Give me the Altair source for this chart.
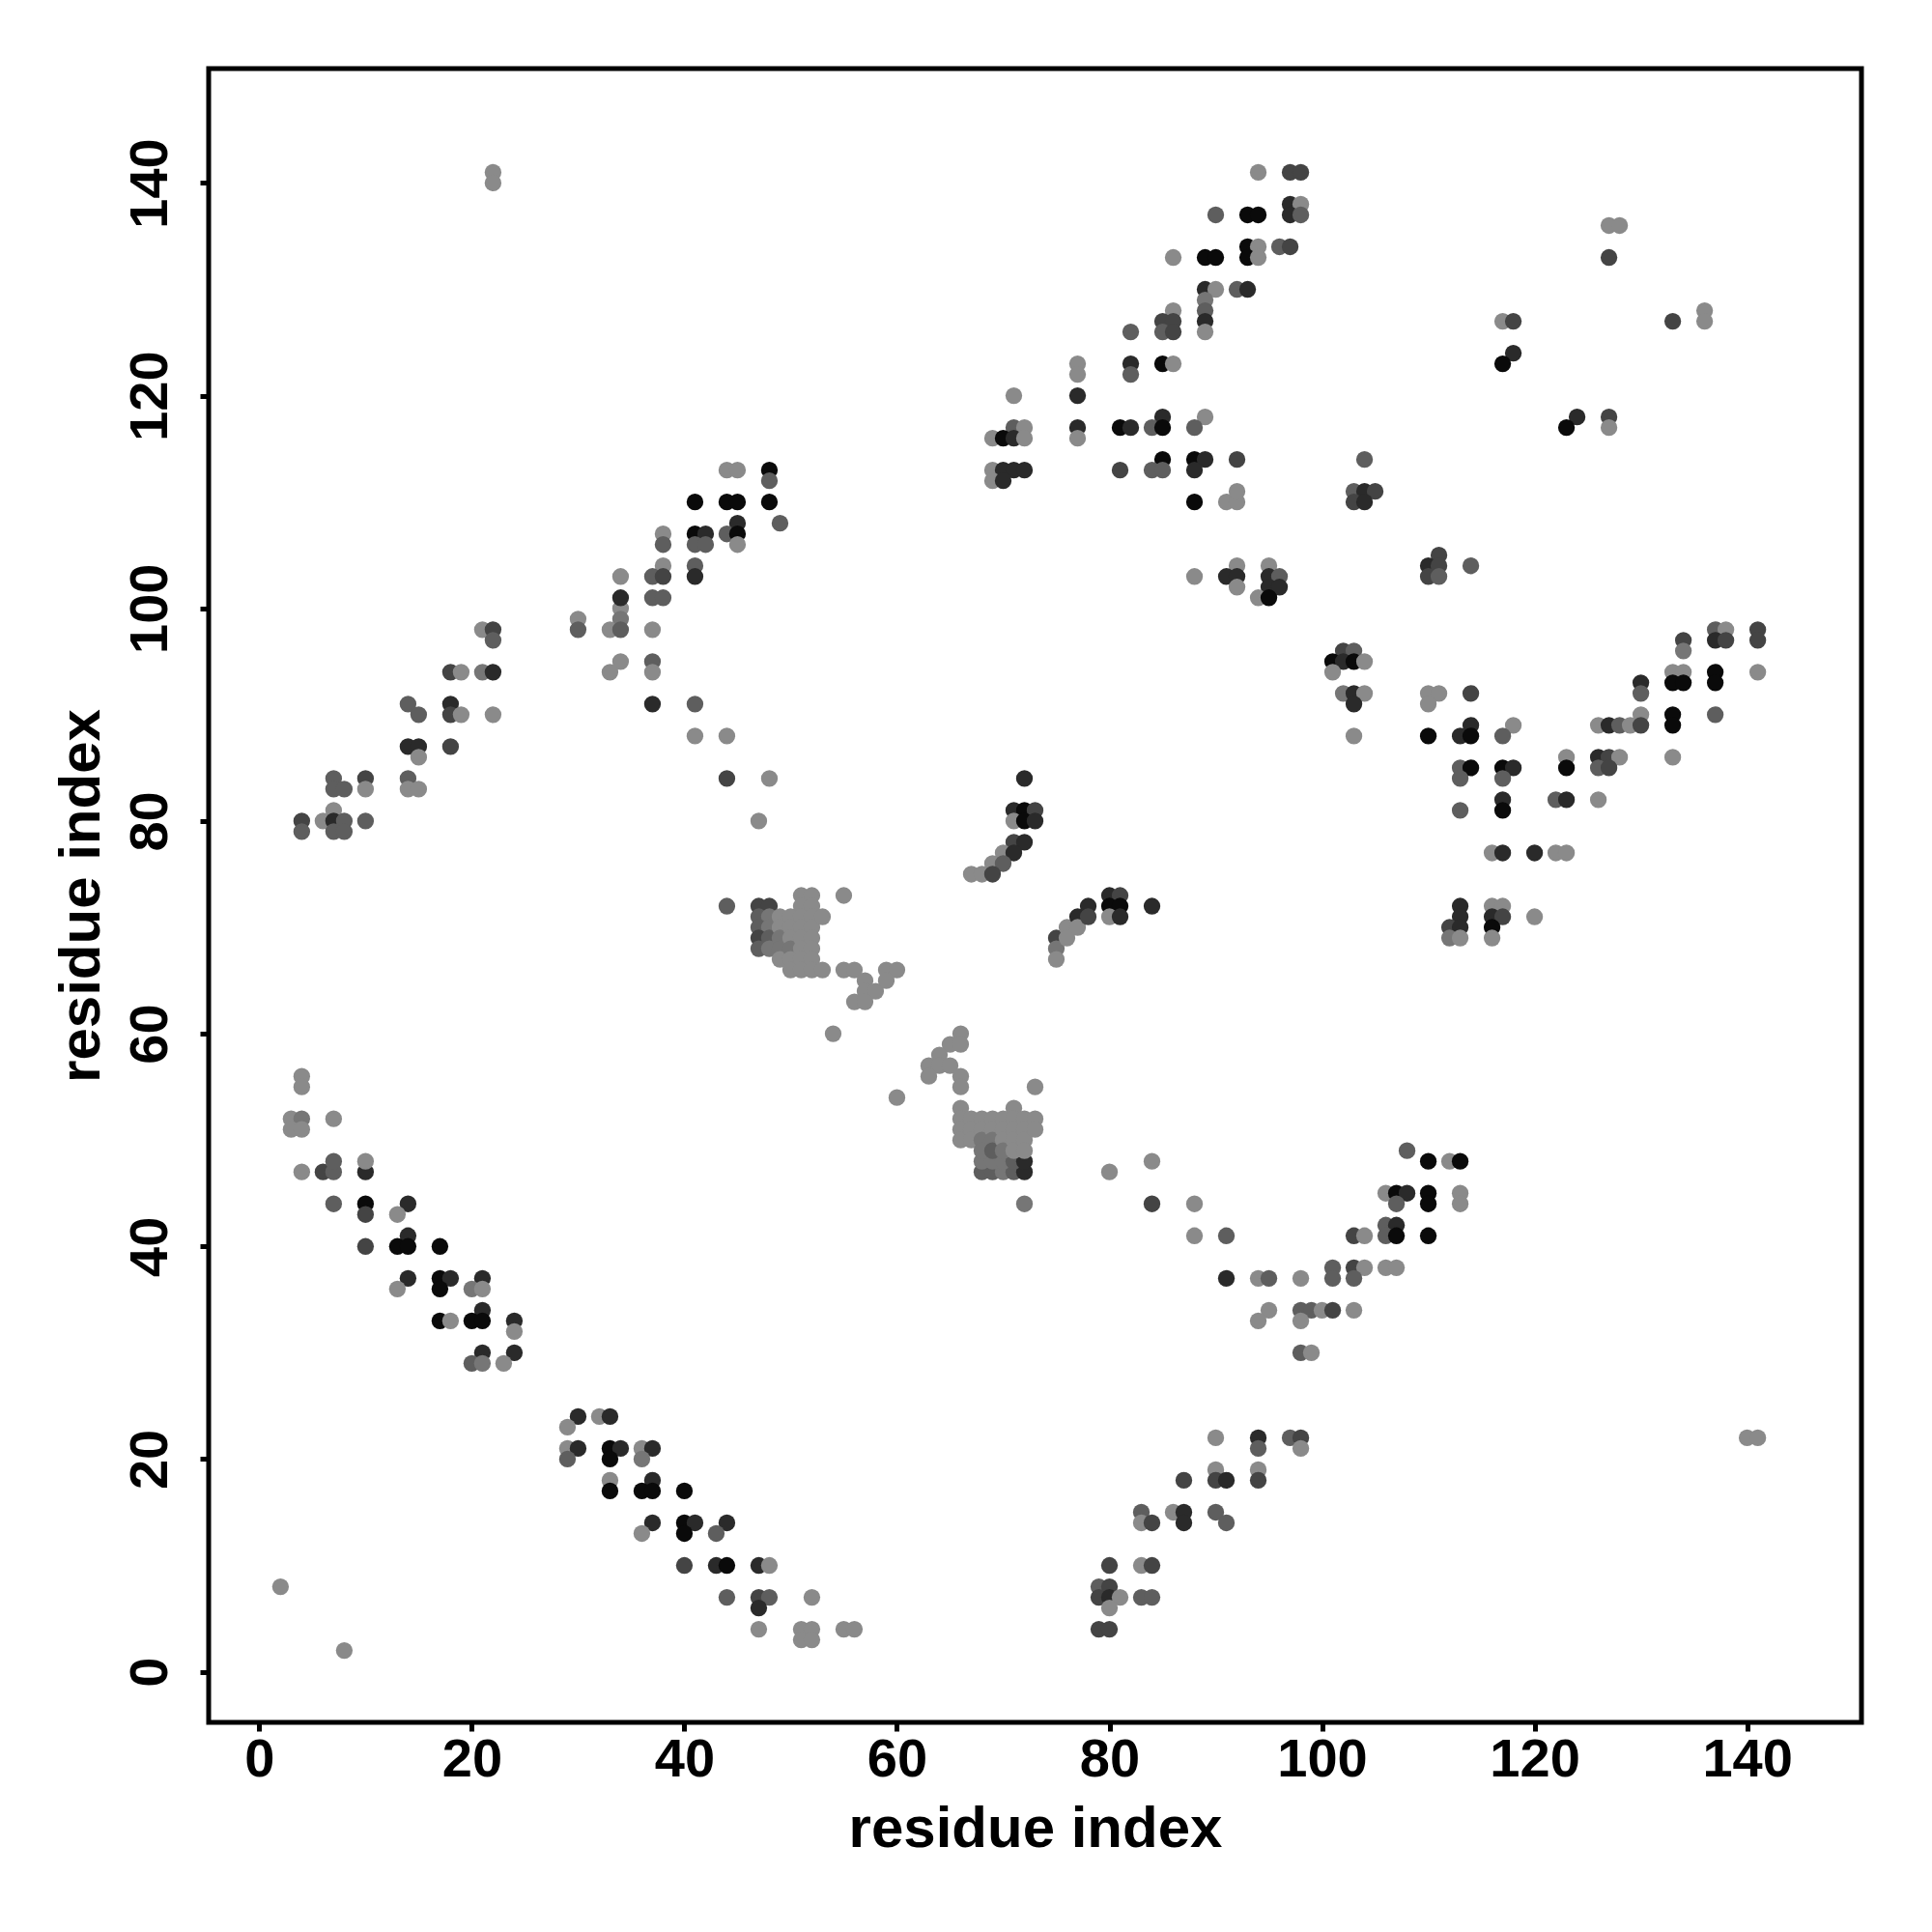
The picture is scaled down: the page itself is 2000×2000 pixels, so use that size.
import altair as alt
import pandas as pd

# Contact map: (residue i, residue j, confidence level 0=light .. 5=strongest)
bottom_left = [
    (2, 8, 0), (8, 2, 0),
    (4, 47, 0), (6, 47, 3), (7, 47, 2), (10, 47, 4),
    (7, 48, 2), (10, 48, 0),
    (7, 44, 2), (10, 44, 5), (14, 44, 4),
    (10, 43, 3), (13, 43, 0),
    (14, 41, 4),
    (10, 40, 3), (13, 40, 5), (14, 40, 5), (17, 40, 5),
    (14, 37, 4), (17, 37, 5), (18, 37, 4), (21, 37, 4),
    (13, 36, 0), (17, 36, 5), (20, 36, 1), (21, 36, 0),
    (21, 34, 4),
    (17, 33, 5), (18, 33, 0), (20, 33, 5), (21, 33, 5), (24, 33, 4),
    (24, 32, 0),
    (21, 30, 4), (24, 30, 4),
    (20, 29, 2), (21, 29, 1), (23, 29, 0),
    (30, 24, 4), (32, 24, 0), (33, 24, 4),
    (29, 23, 0),
    (29, 21, 0), (30, 21, 4), (33, 21, 5), (34, 21, 4), (36, 21, 0), (37, 21, 4),
    (29, 20, 2), (33, 20, 5), (36, 20, 1),
    (33, 18, 0), (37, 18, 4),
    (33, 17, 5), (36, 17, 5), (37, 17, 5), (40, 17, 5),
    (37, 14, 4), (40, 14, 5), (41, 14, 4), (44, 14, 4),
    (36, 13, 0), (40, 13, 5), (43, 13, 2),
    (40, 10, 3), (43, 10, 4), (44, 10, 5), (47, 10, 4), (48, 10, 0),
    (44, 7, 2), (47, 7, 3), (48, 7, 2),
    (47, 6, 4),
    (47, 4, 0), (51, 4, 0), (52, 4, 0), (55, 4, 0), (56, 4, 0),
    (51, 3, 0), (52, 3, 0), (52, 7, 0),
]

bottom_mid = [
    (68, 47, 2), (69, 47, 2), (70, 47, 1), (71, 47, 2), (72, 47, 4),
    (68, 48, 1), (69, 48, 1), (70, 48, 1), (71, 48, 2), (72, 48, 4),
    (80, 47, 0), (84, 48, 0),
    (72, 44, 1), (84, 44, 3), (88, 44, 0),
    (88, 41, 0), (91, 41, 2),
    (91, 37, 4), (94, 37, 0), (95, 37, 2), (98, 37, 0),
    (95, 34, 0), (98, 34, 2), (99, 34, 2), (100, 34, 0), (101, 34, 3), (103, 34, 0),
    (94, 33, 0), (98, 33, 0),
    (98, 30, 2), (99, 30, 0),
    (90, 22, 0), (94, 22, 4), (97, 22, 2), (98, 22, 3),
    (94, 21, 2), (98, 21, 0),
    (90, 19, 0), (94, 19, 0),
    (87, 18, 3), (90, 18, 3), (91, 18, 4), (94, 18, 3),
    (83, 15, 2), (86, 15, 0), (87, 15, 4), (90, 15, 2),
    (83, 14, 0), (84, 14, 3), (87, 14, 4), (91, 14, 2),
    (80, 10, 3), (83, 10, 0), (84, 10, 3),
    (79, 8, 2), (80, 8, 3),
    (79, 7, 3), (80, 7, 4), (81, 7, 0), (83, 7, 2), (84, 7, 2),
    (80, 6, 0),
    (79, 4, 3), (80, 4, 3),
]

bottom_right = [
    (108, 49, 2), (110, 48, 5), (112, 48, 0), (113, 48, 5),
    (106, 45, 0), (107, 45, 5), (108, 45, 4), (110, 45, 5), (113, 45, 0),
    (107, 44, 2), (110, 44, 5), (113, 44, 0),
    (106, 42, 2), (107, 42, 4),
    (103, 41, 3), (104, 41, 0), (106, 41, 2), (107, 41, 5), (110, 41, 5),
    (101, 38, 2), (103, 38, 3), (104, 38, 0), (106, 38, 0), (107, 38, 0),
    (101, 37, 2), (103, 37, 2),
    (140, 22, 0), (141, 22, 0),
]

middle_left = [
    (30, 99, 0), (34, 100, 0), (34, 99, 1),
    (21, 98, 0), (22, 98, 3), (30, 98, 2), (33, 98, 0), (34, 98, 2), (37, 98, 0),
    (22, 97, 2),
    (34, 95, 0), (37, 95, 2),
    (18, 94, 3), (19, 94, 0), (21, 94, 1), (22, 94, 4), (33, 94, 0), (37, 94, 0),
    (14, 91, 2), (18, 91, 4), (37, 91, 4), (41, 91, 2),
    (15, 90, 2), (18, 90, 3), (19, 90, 0), (22, 90, 0),
    (41, 88, 0), (44, 88, 0),
    (14, 87, 4), (15, 87, 4), (18, 87, 3),
    (15, 86, 0),
    (7, 84, 2), (10, 84, 3), (14, 84, 2), (44, 84, 3), (48, 84, 0),
    (7, 83, 2), (8, 83, 2), (10, 83, 0), (14, 83, 0), (15, 83, 0),
    (7, 81, 0),
    (4, 80, 3), (6, 80, 0), (7, 80, 4), (8, 80, 2), (10, 80, 2), (47, 80, 0),
    (4, 79, 2), (7, 79, 2), (8, 79, 2),
    (44, 72, 2),
    (4, 56, 0), (4, 55, 0),
    (3, 52, 0), (4, 52, 1), (7, 52, 0),
    (3, 51, 0), (4, 51, 0),
]

cluster_a = [
    (47, 72, 3), (48, 72, 3),
    (47, 71, 2), (48, 71, 1), (47, 70, 2), (48, 70, 1),
    (47, 69, 3), (48, 69, 2), (47, 68, 2), (48, 68, 1),
    (49, 71, 0), (49, 70, 0), (49, 69, 1), (49, 68, 1), (49, 67, 0),
    (50, 71, 0), (50, 70, 0), (50, 69, 0), (50, 68, 1), (50, 67, 0), (50, 66, 0),
    (51, 73, 0), (51, 72, 0), (51, 71, 0), (51, 70, 0), (51, 69, 0), (51, 68, 0), (51, 67, 0), (51, 66, 0),
    (52, 73, 0), (52, 72, 0), (52, 71, 0), (52, 70, 0), (52, 69, 0), (52, 68, 0), (52, 67, 0), (52, 66, 0),
    (53, 71, 0), (53, 66, 0), (55, 73, 0),
    (55, 66, 0), (56, 66, 0), (57, 65, 0), (57, 64, 0), (58, 64, 0),
    (56, 63, 0), (57, 63, 0), (59, 66, 0), (60, 66, 0), (59, 65, 0),
    (54, 60, 0), (60, 54, 0),
]

cluster_b = [
    (66, 60, 0), (65, 59, 0), (66, 59, 0), (64, 58, 0), (63, 57, 0), (64, 57, 0), (65, 57, 0),
    (63, 56, 0), (66, 56, 0), (66, 55, 0), (73, 55, 0), (71, 53, 0),
    (66, 53, 0), (66, 52, 0), (66, 51, 0), (66, 50, 0),
    (67, 52, 0), (67, 51, 0), (67, 50, 0),
    (68, 52, 0), (68, 51, 0), (68, 50, 1), (68, 49, 1),
    (69, 52, 0), (69, 51, 0), (69, 50, 1), (69, 49, 2),
    (70, 52, 0), (70, 51, 0), (70, 50, 0), (70, 49, 1),
    (71, 52, 0), (71, 51, 0), (71, 50, 0), (71, 49, 0),
    (72, 52, 0), (72, 51, 0), (72, 50, 0), (72, 49, 0), (73, 52, 0), (73, 51, 0),
]

middle_mid = [
    (72, 84, 4),
    (71, 81, 4), (72, 81, 5), (73, 81, 3),
    (71, 80, 0), (72, 80, 5), (73, 80, 4),
    (71, 78, 3), (72, 78, 4),
    (70, 77, 0), (71, 77, 4),
    (69, 76, 0), (70, 76, 2),
    (67, 75, 0), (68, 75, 0), (69, 75, 3),
    (75, 69, 3), (75, 68, 1), (75, 67, 0), (76, 70, 0), (76, 69, 0),
    (77, 71, 4), (77, 70, 0), (78, 72, 4), (78, 71, 3),
    (80, 73, 4), (81, 73, 3), (80, 72, 5), (81, 72, 5), (80, 71, 0), (81, 71, 4), (84, 72, 4),
]

middle_right = [
    (137, 98, 2), (138, 98, 0), (141, 98, 3),
    (134, 97, 3), (137, 97, 4), (138, 97, 3), (141, 97, 3),
    (134, 96, 1),
    (102, 96, 3), (103, 96, 2),
    (101, 95, 5), (102, 95, 4), (103, 95, 5), (104, 95, 0),
    (101, 94, 0), (133, 94, 0), (134, 94, 0), (137, 94, 5), (141, 94, 0),
    (130, 93, 4), (133, 93, 5), (134, 93, 5), (137, 93, 5),
    (102, 92, 1), (103, 92, 4), (104, 92, 0), (110, 92, 0), (111, 92, 0), (114, 92, 3), (130, 92, 2),
    (103, 91, 4), (110, 91, 0),
    (130, 90, 0), (133, 90, 5), (137, 90, 2),
    (114, 89, 4), (118, 89, 0), (126, 89, 0), (127, 89, 4), (128, 89, 2), (129, 89, 0), (130, 89, 3), (133, 89, 5),
    (103, 88, 0), (110, 88, 5), (113, 88, 4), (114, 88, 5), (117, 88, 2),
    (123, 86, 0), (126, 86, 4), (127, 86, 3), (128, 86, 0), (133, 86, 0),
    (113, 85, 2), (114, 85, 5), (117, 85, 5), (118, 85, 4), (123, 85, 5), (126, 85, 2), (127, 85, 3),
    (113, 84, 2), (117, 84, 2),
    (117, 82, 4), (122, 82, 2), (123, 82, 4), (126, 82, 0),
    (113, 81, 2), (117, 81, 5),
    (116, 77, 0), (117, 77, 4), (120, 77, 4), (122, 77, 0), (123, 77, 0),
    (113, 72, 4), (116, 72, 0), (117, 72, 0),
    (113, 71, 4), (116, 71, 4), (117, 71, 3), (120, 71, 0),
    (112, 70, 3), (113, 70, 4), (116, 70, 5),
    (112, 69, 1), (113, 69, 0), (116, 69, 0),
]

top_left = [
    (22, 141, 0), (22, 140, 0),
    (44, 113, 0), (45, 113, 0),
    (41, 110, 5), (44, 110, 5), (45, 110, 5),
    (45, 108, 4),
    (41, 107, 5), (42, 107, 4), (44, 107, 2), (45, 107, 5),
    (41, 106, 2), (42, 106, 2), (45, 106, 0),
    (38, 107, 0), (38, 106, 2),
    (38, 104, 0), (41, 104, 2),
    (34, 103, 0), (37, 103, 2), (38, 103, 3), (41, 103, 4),
    (34, 101, 4), (37, 101, 2), (38, 101, 2),
    (48, 113, 5), (48, 112, 2), (48, 110, 5), (49, 108, 2),
]

top_mid = [
    (94, 141, 0), (97, 141, 3), (98, 141, 3),
    (97, 138, 4), (98, 138, 0),
    (90, 137, 2), (93, 137, 5), (94, 137, 5), (97, 137, 4), (98, 137, 2),
    (93, 134, 5), (94, 134, 0), (96, 134, 2), (97, 134, 3),
    (86, 133, 0), (89, 133, 5), (90, 133, 5), (93, 133, 5), (94, 133, 0),
    (89, 130, 4), (90, 130, 0), (92, 130, 2), (93, 130, 4),
    (89, 129, 1),
    (86, 128, 0), (89, 128, 2),
    (85, 127, 3), (86, 127, 3), (89, 127, 4),
    (82, 126, 2), (85, 126, 2), (86, 126, 3), (89, 126, 0),
    (77, 123, 0), (82, 123, 4), (85, 123, 5), (86, 123, 0),
    (77, 122, 0), (82, 122, 2),
    (71, 120, 0), (77, 120, 4),
    (85, 118, 4), (89, 118, 0),
    (71, 117, 2), (72, 117, 0), (77, 117, 4), (81, 117, 5), (82, 117, 4), (84, 117, 2), (85, 117, 5), (88, 117, 2),
    (69, 116, 0), (70, 116, 5), (71, 116, 4), (72, 116, 0), (77, 116, 0),
    (85, 114, 5), (88, 114, 5), (89, 114, 4), (92, 114, 3),
    (69, 113, 0), (70, 113, 4), (71, 113, 4), (72, 113, 4), (81, 113, 3), (84, 113, 2), (85, 113, 2), (88, 113, 4),
    (69, 112, 0), (70, 112, 4),
    (88, 110, 5), (91, 110, 0), (92, 110, 0), (92, 111, 0),
    (92, 104, 0), (95, 104, 0),
    (88, 103, 0), (91, 103, 4), (92, 103, 4), (95, 103, 4), (96, 103, 2),
    (92, 102, 0), (95, 102, 4), (96, 102, 4),
    (94, 101, 0), (95, 101, 5),
]

top_right = [
    (127, 136, 0), (128, 136, 0),
    (127, 133, 3),
    (136, 128, 0), (136, 127, 0),
    (117, 127, 0), (118, 127, 3), (133, 127, 3),
    (118, 124, 4), (117, 123, 5),
    (124, 118, 4), (127, 118, 3),
    (123, 117, 5), (127, 117, 0),
    (104, 114, 2),
    (103, 111, 2), (104, 111, 4), (105, 111, 3),
    (103, 110, 3), (104, 110, 4),
    (111, 105, 3),
    (110, 104, 4), (111, 104, 3), (114, 104, 2),
    (110, 103, 3), (111, 103, 2),
]

tick_values = [0, 20, 40, 60, 80, 100, 120, 140]
level_domain = [0, 1, 2, 3, 4, 5]
level_colors = ["#8a8a8a", "#767676", "#5e5e5e", "#444444", "#2a2a2a", "#0a0a0a"]

rows = (bottom_left + bottom_mid + bottom_right + middle_left + cluster_a + cluster_b
        + middle_mid + middle_right + top_left + top_mid + top_right)
df = pd.DataFrame(rows, columns=["i", "j", "level"])

FONT = "Liberation Sans"
dom = [-4.76, 150.76]

chart = alt.Chart(df).mark_circle(size=300, opacity=1, strokeWidth=0).encode(
    x=alt.X("i:Q", scale=alt.Scale(domain=dom, nice=False, zero=False),
            axis=alt.Axis(values=tick_values, title="residue index", grid=False, domain=False,
                          tickSize=9, tickWidth=5, tickColor="black",
                          labelFont=FONT, labelFontSize=56, labelFontWeight="bold", labelColor="black",
                          labelPadding=2, labelFlush=False, labelOverlap=False,
                          titleFont=FONT, titleFontSize=60, titleFontWeight="bold", titleColor="black",
                          titleBaseline="alphabetic", titleY=128)),
    y=alt.Y("j:Q", scale=alt.Scale(domain=dom, nice=False, zero=False),
            axis=alt.Axis(values=tick_values, title="residue index", grid=False, domain=False,
                          tickSize=9, tickWidth=5, tickColor="black",
                          labelFont=FONT, labelFontSize=56, labelFontWeight="bold", labelColor="black",
                          labelAngle=270, labelAlign="center", labelBaseline="alphabetic",
                          labelPadding=35, labelFlush=False, labelOverlap=False,
                          titleFont=FONT, titleFontSize=60, titleFontWeight="bold", titleColor="black",
                          titleAngle=270, titleBaseline="alphabetic", titleX=-114, titleY=856)),
    color=alt.Color("level:Q", scale=alt.Scale(domain=level_domain, range=level_colors), legend=None),
).properties(
    width=1711, height=1712,
    background="white",
    autosize=alt.AutoSizeParams(type="none"),
    padding={"left": 208, "top": 63, "right": 60, "bottom": 200},
).configure_view(stroke="black", strokeWidth=5)

chart.save("out.html", embed_options={"renderer": "svg", "actions": False})
